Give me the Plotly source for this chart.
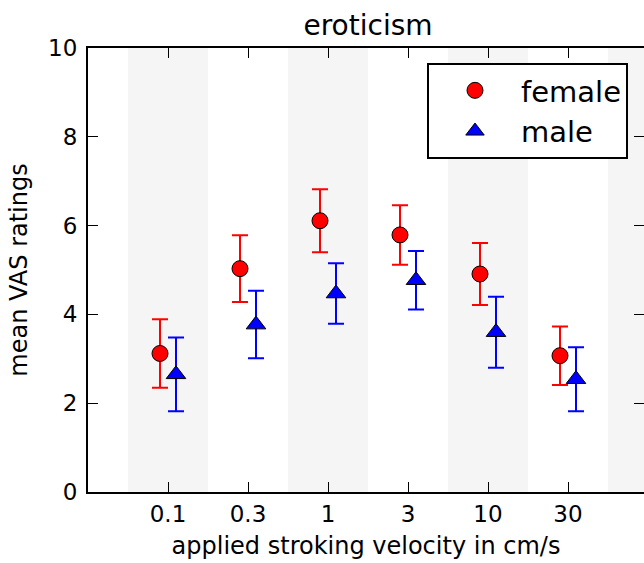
import plotly.graph_objects as go

categories = ["0.1", "0.3", "1", "3", "10", "30"]
female_mean = [3.12, 5.03, 6.11, 5.79, 4.91, 3.07]
female_err = [0.77, 0.75, 0.71, 0.67, 0.70, 0.66]
male_mean = [2.65, 3.77, 4.47, 4.77, 3.60, 2.54]
male_err = [0.83, 0.76, 0.68, 0.66, 0.80, 0.72]
y_ticks = [0, 2, 4, 6, 8, 10]

idx = list(range(len(categories)))
offset = 0.1
FONT = "DejaVu Sans"

fig = go.Figure()

# alternating shaded bands
for i in range(0, len(categories) + 1, 2):
    fig.add_shape(type="rect", xref="x", yref="paper", x0=i - 0.5, x1=i + 0.5,
                  y0=0, y1=1, fillcolor="#f5f5f5", line_width=0, layer="below")

fig.add_trace(go.Scatter(
    x=[i - offset for i in idx], y=female_mean, mode="markers", name="female",
    marker=dict(symbol="circle", size=16, color="red", line=dict(color="black", width=1)),
    error_y=dict(type="data", array=female_err, color="red", thickness=2, width=8),
))
fig.add_trace(go.Scatter(
    x=[i + offset for i in idx], y=male_mean, mode="markers", name="male",
    marker=dict(symbol="triangle-up", size=17, color="blue", line=dict(color="black", width=1)),
    error_y=dict(type="data", array=male_err, color="blue", thickness=2, width=8),
))
# invisible trace to carry the right-hand tick marks
fig.add_trace(go.Scatter(x=[None], y=[None], yaxis="y2", showlegend=False, hoverinfo="skip"))

fig.update_layout(
    width=644, height=563,
    margin=dict(l=88, r=0, t=48, b=71),
    plot_bgcolor="white", paper_bgcolor="white",
    font=dict(family=FONT, color="black", size=23),
    title=dict(text="eroticism", x=(88 + 648) / 2 / 644, xanchor="center",
               y=1 - 25 / 563, yanchor="middle", font=dict(size=28, family=FONT)),
    xaxis=dict(
        range=[-1, 5.95], tickmode="array", tickvals=idx, ticktext=categories,
        ticks="inside", ticklen=10, tickwidth=1, tickcolor="black",
        showline=True, linecolor="black", linewidth=2, mirror="ticks",
        showgrid=False, zeroline=False, tickfont=dict(size=23),
        title=dict(text="applied stroking velocity in cm/s", font=dict(size=24), standoff=12),
    ),
    yaxis=dict(
        range=[0, 10], tickvals=y_ticks, ticks="inside", ticklen=10, tickwidth=1,
        tickcolor="black", showline=True, linecolor="black", linewidth=2,
        showgrid=False, zeroline=False, tickfont=dict(size=23), ticklabelstandoff=4,
        title=dict(text="mean VAS ratings", font=dict(size=24), standoff=14),
    ),
    yaxis2=dict(
        range=[0, 10], tickvals=y_ticks, overlaying="y", side="right",
        ticks="inside", ticklen=10, tickwidth=1, tickcolor="black",
        showticklabels=False, showline=False, showgrid=False, zeroline=False,
    ),
    legend=dict(
        x=(427 - 88) / 556, y=1 - (63 - 48) / 444, xanchor="left", yanchor="top",
        bordercolor="black", borderwidth=2, bgcolor="white",
        font=dict(size=29, family=FONT), itemwidth=82,
    ),
    showlegend=True,
)

fig.write_html("out.html")
